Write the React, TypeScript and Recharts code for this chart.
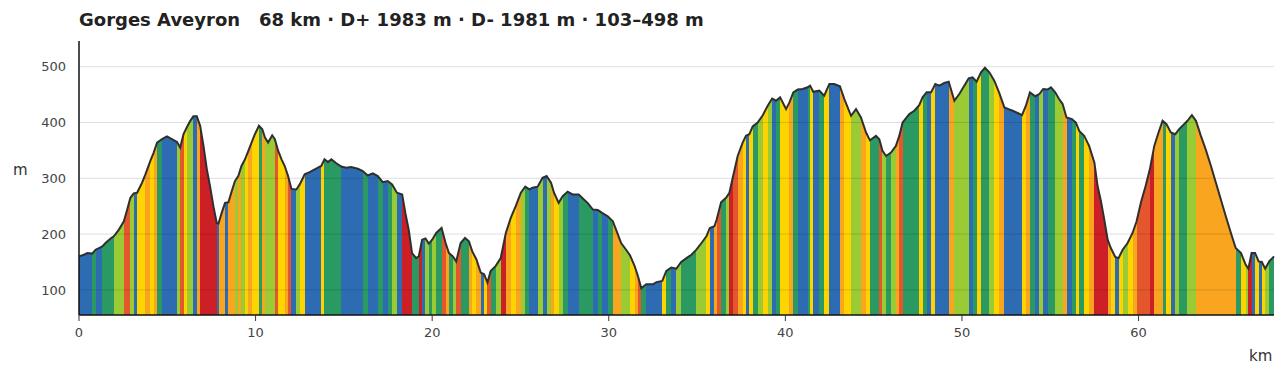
import { ComposedChart, Area, XAxis, YAxis, ReferenceLine } from "recharts";

const TITLE = "Gorges Aveyron   68 km · D+ 1983 m · D- 1981 m · 103–498 m";

// distance along the track (km)
const km = [
  0, 0.28, 0.47, 0.75, 0.94, 1.13, 1.32, 1.5, 1.79, 1.97,
  2.26, 2.54, 2.73, 2.91, 3.1, 3.29, 3.57, 3.76, 4.04, 4.23,
  4.42, 4.7, 4.98, 5.26, 5.55, 5.73, 5.92, 6.1, 6.3, 6.48,
  6.67, 6.86, 7.05, 7.24, 7.42, 7.61, 7.8, 7.9, 8.08, 8.27,
  8.46, 8.65, 8.83, 9.02, 9.2, 9.4, 9.59, 9.77, 9.96, 10.19,
  10.38, 10.53, 10.71, 10.94, 11.09, 11.28, 11.47, 11.65, 11.84, 12.03,
  12.31, 12.5, 12.78, 13.06, 13.35, 13.53, 13.72, 13.9, 14.1, 14.29,
  14.57, 14.85, 15.13, 15.41, 15.79, 16.07, 16.35, 16.64, 16.92, 17.2,
  17.48, 17.73, 18.0, 18.3, 18.48, 18.67, 18.86, 19.09, 19.24, 19.43,
  19.62, 19.81, 20.0, 20.23, 20.53, 20.76, 20.95, 21.17, 21.36, 21.61,
  21.86, 22.08, 22.27, 22.5, 22.75, 22.94, 23.13, 23.31, 23.6, 23.88,
  24.17, 24.45, 24.73, 25.02, 25.27, 25.5, 25.68, 25.97, 26.25, 26.48,
  26.73, 26.9, 27.16, 27.39, 27.67, 27.95, 28.3, 28.56, 28.8, 29.1,
  29.38, 29.62, 29.94, 30.23, 30.45, 30.7, 30.98, 31.2, 31.46, 31.65,
  31.84, 32.12, 32.5, 32.7, 33.03, 33.26, 33.54, 33.83, 34.1, 34.4,
  34.68, 34.96, 35.25, 35.53, 35.72, 35.98, 36.11, 36.36, 36.64, 36.83,
  37.02, 37.3, 37.58, 37.77, 37.96, 38.15, 38.43, 38.72, 39.0, 39.25,
  39.47, 39.7, 40.04, 40.23, 40.45, 40.7, 40.98, 41.26, 41.4, 41.58,
  41.92, 42.2, 42.49, 42.77, 43.09, 43.34, 43.72, 44.0, 44.28, 44.57,
  44.79, 45.13, 45.32, 45.5, 45.7, 45.98, 46.26, 46.45, 46.64, 47.02,
  47.3, 47.58, 47.77, 48.0, 48.25, 48.49, 48.72, 49.0, 49.25, 49.57,
  49.85, 50.13, 50.38, 50.6, 50.83, 51.08, 51.3, 51.55, 51.83, 52.1,
  52.4, 52.64, 52.87, 53.15, 53.4, 53.62, 53.85, 54.15, 54.38, 54.6,
  54.85, 55.04, 55.28, 55.5, 55.7, 55.92, 56.23, 56.45, 56.64, 56.92,
  57.2, 57.5, 57.68, 57.87, 58.06, 58.25, 58.43, 58.68, 58.87, 59.1,
  59.38, 59.66, 59.89, 60.13, 60.4, 60.64, 60.89, 61.13, 61.36, 61.58,
  61.83, 62.08, 62.3, 62.58, 62.77, 63.02, 63.25, 63.53, 63.8, 64.1,
  64.38, 64.66, 64.94, 65.23, 65.5, 65.8, 66.07, 66.22, 66.4, 66.6,
  66.8, 66.98, 67.17, 67.4, 67.67,
];

// elevation at each km point (m)
const elevation = [
  160, 163, 166, 165, 172, 175, 178, 184, 192, 196,
  208, 223, 244, 265, 273, 274, 292, 307, 331, 346,
  364, 370, 375, 370, 365, 355, 379, 391, 403, 411,
  411, 394, 358, 316, 286, 250, 220, 219, 238, 256,
  257, 277, 295, 304, 322, 334, 349, 364, 379, 394,
  388, 373, 364, 377, 370, 349, 334, 322, 304, 281,
  280, 289, 307, 311, 316, 319, 322, 334, 329, 334,
  327, 321, 319, 320, 317, 313, 305, 309, 304, 293,
  295, 289, 274, 271, 238, 208, 166, 157, 160, 190,
  192, 183, 190, 202, 211, 184, 166, 160, 151, 184,
  193, 187, 169, 155, 131, 128, 113, 134, 143, 157,
  202, 229, 250, 274, 285, 280, 283, 285, 301, 304,
  292, 274, 256, 268, 276, 271, 271, 263, 256, 244,
  243, 238, 232, 223, 205, 184, 172, 162, 143, 125,
  103, 110, 110, 114, 116, 134, 140, 138, 150, 157,
  163, 172, 184, 196, 211, 214, 226, 257, 265, 274,
  301, 340, 364, 376, 379, 393, 400, 413, 430, 443,
  439, 445, 424, 436, 454, 459, 460, 463, 466, 455,
  457, 448, 469, 469, 465, 442, 412, 424, 409, 382,
  368, 376, 370, 349, 340, 346, 358, 376, 400, 415,
  421, 431, 445, 454, 454, 469, 466, 471, 473, 439,
  451, 466, 479, 481, 473, 490, 498, 490, 475, 454,
  427, 424, 421, 417, 413, 430, 454, 447, 451, 460,
  459, 463, 454, 442, 433, 409, 406, 400, 385, 376,
  358, 328, 286, 259, 226, 190, 175, 159, 157, 172,
  184, 202, 223, 256, 286, 316, 358, 382, 403, 397,
  382, 379, 388, 397, 403, 413, 403, 376, 352, 322,
  292, 262, 232, 202, 175, 166, 145, 138, 166, 166,
  151, 150, 138, 151, 160,
];

const xTicks = [0, 10, 20, 30, 40, 50, 60];
const yTicks = [100, 200, 300, 400, 500];

// absolute grade limits (%) and the colour used below each limit
const gradeLimits = [2, 4, 6, 8, 11, 14];
const gradeColors = ["#2d6cb3", "#2a9a62", "#9acb34", "#fdd300", "#f9a520", "#e4572c", "#cc2026"];

const data = km.map((d, i) => ({ km: d, ele: elevation[i] }));
const kmMax = km[km.length - 1];

function gradeColor(grade: number) {
  const idx = gradeLimits.findIndex((g) => grade < g);
  return gradeColors[idx === -1 ? gradeColors.length - 1 : idx];
}

// hard-edged gradient: one coloured band per segment
const stops: { offset: number; color: string }[] = [];
for (let i = 0; i < km.length - 1; i++) {
  const dist = (km[i + 1] - km[i]) * 1000;
  const grade = (Math.abs(elevation[i + 1] - elevation[i]) / dist) * 100;
  const color = gradeColor(grade);
  stops.push({ offset: km[i] / kmMax, color });
  stops.push({ offset: km[i + 1] / kmMax, color });
}

const FONT = "'DejaVu Sans', sans-serif";
const tickStyle = { fill: "#444", fontSize: 13, fontFamily: FONT };

export default function App() {
  return (
    <div style={{ position: "absolute", left: 0, top: 0, width: 1287, height: 377, background: "#fff", fontFamily: FONT }}>
      <div
        style={{
          position: "absolute",
          left: 79,
          top: 10,
          fontSize: 18,
          lineHeight: "20px",
          fontWeight: "bold",
          color: "#222",
          whiteSpace: "pre",
        }}
      >
        {TITLE}
      </div>
      <div style={{ position: "absolute", left: 13, top: 163, fontSize: 15, lineHeight: "15px", color: "#333" }}>m</div>
      <div style={{ position: "absolute", left: 1249, top: 349, fontSize: 15, lineHeight: "15px", color: "#333" }}>km</div>
      <ComposedChart width={1287} height={377} data={data} margin={{ top: 41, right: 13, bottom: 0, left: 0 }}>
        <defs>
          <linearGradient id="slopeFill" x1="0" y1="0" x2="1" y2="0">
            {stops.map((s, i) => (
              <stop key={i} offset={s.offset} stopColor={s.color} />
            ))}
          </linearGradient>
        </defs>
        <XAxis
          dataKey="km"
          type="number"
          domain={[0, kmMax]}
          ticks={xTicks}
          interval={0}
          height={62}
          tick={tickStyle}
          tickSize={6}
          tickMargin={7}
          axisLine={{ stroke: "#111", strokeWidth: 1.5 }}
          tickLine={{ stroke: "#333" }}
        />
        <YAxis
          type="number"
          domain={[55, 546]}
          ticks={yTicks}
          interval={0}
          width={79}
          tick={tickStyle}
          tickSize={6}
          tickMargin={7}
          tickLine={false}
          axisLine={{ stroke: "#111", strokeWidth: 1.5 }}
        />
        <Area
          type="linear"
          dataKey="ele"
          stroke="#2f2f2f"
          strokeWidth={2}
          fill="url(#slopeFill)"
          fillOpacity={1}
          dot={false}
          activeDot={false}
          isAnimationActive={false}
        />
        {yTicks.map((v) => (
          <ReferenceLine key={v} y={v} stroke="rgba(0,0,0,0.13)" strokeWidth={1} />
        ))}
      </ComposedChart>
    </div>
  );
}
